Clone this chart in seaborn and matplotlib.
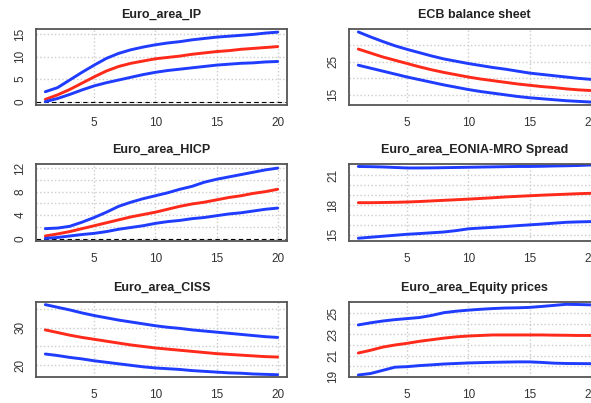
import numpy as np
import pandas as pd
import matplotlib
matplotlib.use("Agg")
import matplotlib.pyplot as plt
import seaborn as sns

# horizons
horizon = list(range(1, 21))

# Euro_area_IP
ip_upper = [2.2, 3.1, 4.8, 6.5, 8.1, 9.6, 10.7, 11.5, 12.1, 12.6, 13.0, 13.3, 13.7, 14.0, 14.3, 14.5, 14.7, 14.9, 15.2, 15.4]
ip_median = [0.5, 1.5, 2.7, 4.1, 5.5, 6.8, 7.8, 8.5, 9.0, 9.5, 9.8, 10.1, 10.5, 10.8, 11.1, 11.3, 11.6, 11.8, 12.0, 12.2]
ip_lower = [0.0, 0.7, 1.6, 2.6, 3.5, 4.2, 4.8, 5.4, 6.0, 6.5, 6.9, 7.2, 7.5, 7.8, 8.1, 8.3, 8.5, 8.6, 8.8, 8.9]

# ECB balance sheet
ecb_upper = [34.1, 32.6, 31.2, 29.9, 28.8, 27.8, 26.8, 25.9, 25.2, 24.5, 23.9, 23.3, 22.8, 22.2, 21.6, 21.2, 20.8, 20.4, 20.0, 19.7]
ecb_median = [28.9, 27.7, 26.5, 25.5, 24.5, 23.5, 22.6, 21.8, 21.1, 20.4, 19.8, 19.3, 18.8, 18.3, 17.9, 17.5, 17.2, 16.8, 16.5, 16.3]
ecb_lower = [24.0, 23.1, 22.2, 21.3, 20.4, 19.6, 18.8, 18.0, 17.3, 16.6, 16.0, 15.5, 15.0, 14.5, 14.1, 13.8, 13.5, 13.2, 13.0, 12.8]

# Euro_area_HICP
hicp_upper = [1.7, 1.8, 2.1, 2.8, 3.6, 4.5, 5.5, 6.2, 6.8, 7.3, 7.8, 8.4, 8.9, 9.6, 10.1, 10.5, 10.9, 11.3, 11.7, 12.0]
hicp_median = [0.45, 0.8, 1.2, 1.7, 2.2, 2.7, 3.2, 3.7, 4.1, 4.5, 5.0, 5.5, 5.9, 6.2, 6.6, 7.0, 7.3, 7.7, 8.0, 8.4]
hicp_lower = [0.05, 0.2, 0.45, 0.7, 0.9, 1.2, 1.6, 1.9, 2.2, 2.6, 2.9, 3.1, 3.4, 3.6, 3.9, 4.2, 4.4, 4.7, 5.0, 5.2]

# Euro_area_EONIA-MRO Spread
eonia_upper = [21.9, 21.88, 21.85, 21.8, 21.75, 21.75, 21.76, 21.78, 21.8, 21.82, 21.84, 21.86, 21.88, 21.9, 21.9, 21.92, 21.95, 21.97, 22.0, 22.05]
eonia_median = [18.24, 18.24, 18.26, 18.28, 18.31, 18.36, 18.42, 18.48, 18.54, 18.6, 18.67, 18.74, 18.82, 18.88, 18.94, 19.0, 19.05, 19.1, 19.15, 19.19]
eonia_lower = [14.65, 14.75, 14.85, 14.95, 15.05, 15.12, 15.2, 15.28, 15.42, 15.6, 15.68, 15.75, 15.83, 15.92, 16.0, 16.08, 16.17, 16.26, 16.3, 16.33]

# Euro_area_CISS
ciss_upper = [36.1, 35.4, 34.7, 33.9, 33.2, 32.6, 32.0, 31.5, 31.0, 30.5, 30.1, 29.8, 29.4, 29.1, 28.8, 28.5, 28.2, 27.9, 27.6, 27.4]
ciss_median = [29.4, 28.7, 28.0, 27.4, 26.9, 26.4, 25.9, 25.4, 25.0, 24.6, 24.3, 24.0, 23.7, 23.4, 23.1, 22.9, 22.7, 22.5, 22.3, 22.2]
ciss_lower = [23.0, 22.6, 22.1, 21.7, 21.2, 20.8, 20.4, 20.0, 19.6, 19.3, 19.1, 18.9, 18.6, 18.4, 18.2, 18.0, 17.9, 17.7, 17.6, 17.5]

# Euro_area_Equity prices
eq_upper = [23.9, 24.1, 24.27, 24.4, 24.5, 24.6, 24.8, 25.06, 25.2, 25.3, 25.38, 25.45, 25.5, 25.52, 25.56, 25.65, 25.75, 25.85, 25.83, 25.8]
eq_median = [21.24, 21.5, 21.8, 22.0, 22.16, 22.35, 22.5, 22.65, 22.77, 22.85, 22.9, 22.95, 22.95, 22.95, 22.95, 22.95, 22.93, 22.92, 22.9, 22.9]
eq_lower = [19.16, 19.3, 19.6, 19.9, 19.95, 20.05, 20.12, 20.2, 20.25, 20.3, 20.33, 20.36, 20.38, 20.4, 20.4, 20.35, 20.28, 20.25, 20.24, 20.23]

titles = ["Euro_area_IP", "ECB balance sheet", "Euro_area_HICP",
          "Euro_area_EONIA-MRO Spread", "Euro_area_CISS", "Euro_area_Equity prices"]
series = [(ip_lower, ip_median, ip_upper), (ecb_lower, ecb_median, ecb_upper),
          (hicp_lower, hicp_median, hicp_upper), (eonia_lower, eonia_median, eonia_upper),
          (ciss_lower, ciss_median, ciss_upper), (eq_lower, eq_median, eq_upper)]
ylims = [(-0.74, 16.1), (11.9, 35.0), (-0.4, 12.7), (14.37, 22.15), (16.9, 36.8), (18.97, 26.07)]
yticks = [[0, 5, 10, 15], [15, 20, 25, 30], [0, 2, 4, 6, 8, 10, 12],
          [15, 16, 17, 18, 19, 20, 21], [20, 25, 30, 35], [19, 20, 21, 22, 23, 24, 25]]
ylabels = [["0", "5", "10", "15"], ["15", "", "25", ""], ["0", "", "4", "", "8", "", "12"],
           ["15", "", "", "18", "", "", "21"], ["20", "", "30", ""], ["19", "", "21", "", "23", "", "25"]]
zero_line = [True, False, True, False, False, False]

sns.set_style("white")
plt.rcParams['font.family'] = ['Liberation Sans', 'DejaVu Sans']

W, H = 591, 403
fig = plt.figure(figsize=(W / 100, H / 100), dpi=100)
col_left = [36, 349]
row_box = [(29, 105), (164, 241), (302, 377)]
box_w = 251

for i in range(6):
    r, c = i // 2, i % 2
    top, bot = row_box[r]
    ax = fig.add_axes([col_left[c] / W, 1 - bot / H, box_w / W, (bot - top) / H])
    lo, med, up = series[i]
    df = pd.DataFrame({"h": horizon, "lo": lo, "med": med, "up": up})
    ax.grid(True, color="#cccccc", linestyle=":", linewidth=1.0)
    ax.set_axisbelow(True)
    if zero_line[i]:
        ax.axhline(0, color="black", linestyle="--", linewidth=0.8, dashes=(4, 3))
    sns.lineplot(data=df, x="h", y="up", ax=ax, color="#1f3cff", linewidth=2.1)
    sns.lineplot(data=df, x="h", y="med", ax=ax, color="#ff2a1a", linewidth=2.1)
    sns.lineplot(data=df, x="h", y="lo", ax=ax, color="#1f3cff", linewidth=2.1)
    ax.set_xlim(0.24, 20.76)
    ax.set_ylim(*ylims[i])
    ax.set_xticks([5, 10, 15, 20])
    ax.set_yticks(yticks[i])
    ax.set_yticklabels(ylabels[i], rotation=90, va="center")
    ax.set_xlabel("")
    ax.set_ylabel("")
    ax.tick_params(axis="both", direction="out", length=4, width=0.8,
                   color="#444444", labelcolor="#333333", labelsize=8.5)
    ax.tick_params(axis="x", pad=5)
    ax.tick_params(axis="y", pad=3)
    for s in ax.spines.values():
        s.set_visible(True)
        s.set_color("#555555")
        s.set_linewidth(1.3)
    ax.set_title(titles[i], fontsize=9, fontweight="bold", color="#222222", pad=8)

fig.savefig("out.png", dpi=100)
